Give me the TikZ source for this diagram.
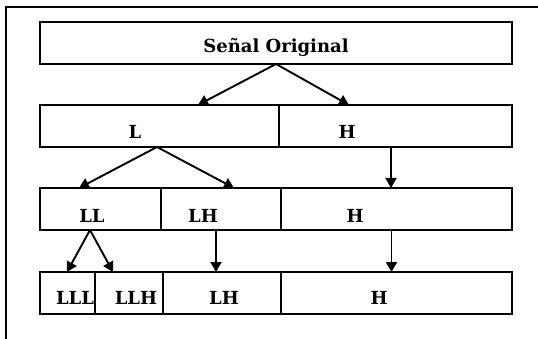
\documentclass[tikz,border=0pt]{standalone}
\usepackage{fontspec}
\setmainfont{DejaVu Serif}
\usetikzlibrary{positioning,arrows.meta}

\begin{document}
\begin{tikzpicture}[x=1pt, y=-1pt, thick,
                box/.style={draw, line width=2.2pt, minimum height=42pt, inner sep=0pt, outer sep=0pt},
                lbl/.style={font=\bfseries\fontsize{18}{20}\selectfont, text height=13pt, text depth=0pt, inner sep=0pt},
                arr/.style={line width=1.9pt, -{Triangle[length=10pt,width=11pt]}}]

            \useasboundingbox (0,0) rectangle (538,339);

            % Frame
            \draw[line width=2pt] (538,7) -| (6,339);

            % Nodes
            \node[box, minimum width=472pt, anchor=north west] (orig) at (40,22) {};

            \node[box, minimum width=239pt, anchor=north west] (l) at (40,105) {};
            \node[box, minimum width=233pt] (h) [right=0pt of l] {};

            \node[box, minimum width=121pt, anchor=north west] (ll) at (40,188) {};
            \node[box, minimum width=120pt] (lh) [right=0pt of ll] {};
            \node[box, minimum width=231pt] (hh) [right=0pt of lh] {};

            \node[box, minimum width=55pt, anchor=north west] (lll) at (40,272) {};
            \node[box, minimum width=68pt] (llh) [right=0pt of lll] {};
            \node[box, minimum width=118pt] (lhh) [right=0pt of llh] {};
            \node[box, minimum width=231pt] (hhh) [right=0pt of lhh] {};

            % Labels
            \node[lbl] (t-orig) at ([shift={(0pt,-3.5pt)}]orig.center) {Señal Original};
            \node[lbl] (t-l) at ([shift={(-24.5pt,-6pt)}]l.center) {L};
            \node[lbl] (t-h) at ([shift={(-48.5pt,-6pt)}]h.center) {H};
            \node[lbl] (t-ll) at ([shift={(-8.5pt,-7pt)}]ll.center) {LL};
            \node[lbl] (t-lh) at ([shift={(-18pt,-7pt)}]lh.center) {LH};
            \node[lbl] (t-hh) at ([shift={(-41.5pt,-7pt)}]hh.center) {H};
            \node[lbl] (t-lll) at ([shift={(7.5pt,-5pt)}]lll.center) {LLL};
            \node[lbl] (t-llh) at ([shift={(7pt,-5pt)}]llh.center) {LLH};
            \node[lbl] (t-lhh) at ([shift={(2pt,-5pt)}]lhh.center) {LH};
            \node[lbl] (t-hhh) at ([shift={(-17.5pt,-5pt)}]hhh.center) {H};

            % Edges
            \path
            (orig.south) edge[arr] ([xshift=38.5pt]l.north)
            (orig.south) edge[arr] ([xshift=-46.5pt]h.north)
            ([xshift=-2.5pt]l.south) edge[arr] ([xshift=-21.5pt]ll.north)
            ([xshift=-2.5pt]l.south) edge[arr] ([xshift=13pt]lh.north)
            ([xshift=-4.5pt]h.south) edge[arr] ([xshift=-4.5pt]h.south |- hh.north)
            ([xshift=-10.5pt]ll.south) edge[arr] ([xshift=-0.5pt]lll.north)
            ([xshift=-10.5pt]ll.south) edge[arr] ([xshift=-16pt]llh.north)
            ([xshift=-5pt]lh.south) edge[arr] ([xshift=-5pt]lh.south |- lhh.north)
            ([xshift=-5pt]hh.south) edge[arr] ([xshift=-5pt]hh.south |- hhh.north);

        \end{tikzpicture}
\end{document}
